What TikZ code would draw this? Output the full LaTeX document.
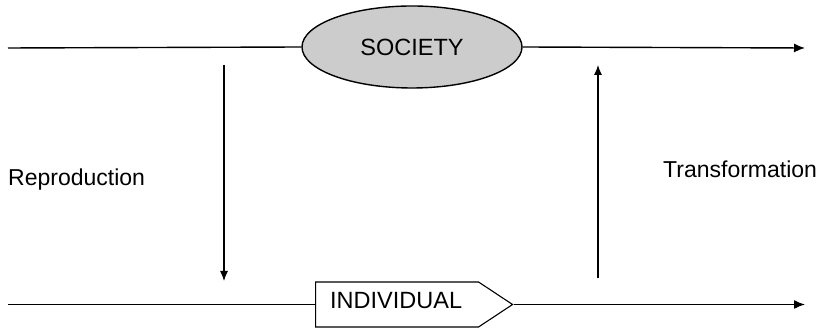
\documentclass[tikz,border=0pt]{standalone}
\usepackage{fontspec}
\setmainfont{Liberation Sans}
\usetikzlibrary{arrows.meta,shapes.geometric,shapes.symbols}
\begin{document}
\begin{tikzpicture}[x=1pt,y=1pt,
  flow/.style={line width=1.4pt,-{Latex[length=11pt,width=9pt]}},
  plain/.style={line width=1.4pt},
  label/.style={font=\fontsize{23}{25}\selectfont,inner sep=0pt},
  societybox/.style={ellipse,draw,line width=1.4pt,fill=black!20,
    minimum width=220pt,minimum height=82pt,inner sep=0pt,
    font=\fontsize{23.5}{25}\selectfont},
  individualbox/.style={signal,signal to=east,draw,line width=1.1pt,fill=white,
    minimum height=45pt,inner sep=0pt,signal pointer angle=67}]
\useasboundingbox (0,0) rectangle (820,331);

% the two horizontal time lines
\coordinate (topL) at (8,283);
\coordinate (topR) at (805,283);
\coordinate (botL) at (8,26.5);
\coordinate (botR) at (805,26.5);

\node[societybox] (society) at (412,284) {SOCIETY};
\node[individualbox,minimum width=197pt,anchor=west] (individual) at (315,26.5) {};
\node[label,font=\fontsize{23.5}{25}\selectfont,anchor=base west] (individualtext) at (330,22) {INDIVIDUAL};

\draw[plain] (topL) -- (society.west);
\draw[flow] (society.east) -- (topR);
\draw[plain] (botL) -- (individual.west);
\draw[flow] (individual.east) -- (botR);

% vertical links between the two levels
\coordinate (repTop) at (224,266);
\coordinate (repBot) at (224,50);
\coordinate (trBot) at (598,53);
\coordinate (trTop) at (598,266);
\draw[flow,line width=1.1pt,-{Latex[length=10pt,width=8pt]}] (repTop) -- (repBot);
\draw[flow,line width=1.1pt,-{Latex[length=10pt,width=8pt]}] (trBot) -- (trTop);

\node[label,anchor=base west] (reproduction) at (8,145) {Reproduction};
\node[label,anchor=base west] (transformation) at (663,153) {Transformation};
\end{tikzpicture}
\end{document}
